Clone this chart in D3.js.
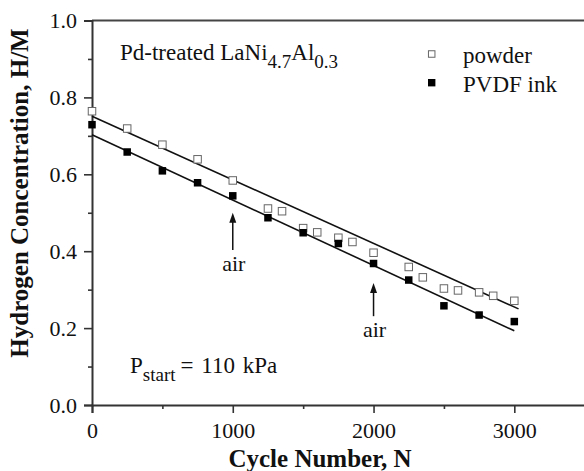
<!DOCTYPE html>
<html><head><meta charset="utf-8">
<script src="https://cdn.jsdelivr.net/npm/d3@7"></script>
<style>
html,body{margin:0;padding:0;background:#fff;}
svg{display:block;font-family:"Liberation Serif","Times New Roman",serif;}
</style></head>
<body><svg id="c" width="584" height="471"></svg>
<script>
const cyclesPowder = [0,250,500,750,1000,1250,1350,1500,1600,1750,1850,2000,2250,2350,2500,2600,2750,2850,3000];
const powder = [0.764,0.719,0.677,0.639,0.584,0.511,0.504,0.460,0.449,0.435,0.424,0.396,0.359,0.332,0.303,0.298,0.293,0.284,0.271];
const cyclesInk = [0,250,500,750,1000,1250,1500,1750,2000,2250,2500,2750,3000];
const ink = [0.729,0.658,0.609,0.578,0.544,0.487,0.448,0.420,0.368,0.325,0.258,0.234,0.217];
const fitPowderX = [0,3030], fitPowderY = [0.751,0.250];
const fitInkX = [0,3000], fitInkY = [0.703,0.193];
const xMajor = [0,1000,2000,3000], xMinor = [500,1500,2500];
const yMajor = [0,0.2,0.4,0.6,0.8,1.0], yMinor = [0.1,0.3,0.5,0.7,0.9];
const legendLabels = ["powder","PVDF ink"];
const arrowX = [1000,2000], arrowTip = [0.50,0.317], arrowTail = [0.403,0.231], arrowText = [0.348,0.178];

const svg = d3.select("#c");
const X0=92, X1=584.7, Y0=405, Y1=20.5;
const x = d3.scaleLinear().domain([0,3500]).range([X0,X1]);
const y = d3.scaleLinear().domain([0,1]).range([Y0,Y1]);
const ink1="#111", axc="#333";

// top frame
svg.append("line").attr("x1",X0).attr("x2",584).attr("y1",y(1)).attr("y2",y(1))
  .attr("stroke","#444").attr("stroke-width",2);

// axes
const gx = svg.append("g").attr("transform",`translate(0,${Y0})`)
  .call(d3.axisBottom(x).tickValues(xMajor).tickSize(8).tickPadding(9).tickFormat(d3.format("d")));
const gxm = svg.append("g").attr("transform",`translate(0,${Y0})`)
  .call(d3.axisBottom(x).tickValues(xMinor).tickSize(4).tickFormat(""));
const gy = svg.append("g").attr("transform",`translate(${X0},0)`)
  .call(d3.axisLeft(y).tickValues(yMajor).tickSize(8).tickPadding(7).tickFormat(d3.format(".1f")));
const gym = svg.append("g").attr("transform",`translate(${X0},0)`)
  .call(d3.axisLeft(y).tickValues(yMinor).tickSize(4).tickFormat(""));
[gx,gxm,gy,gym].forEach(g=>{
  g.select(".domain").attr("stroke",axc).attr("stroke-width",2);
  g.selectAll(".tick line").attr("stroke",axc).attr("stroke-width",1.6);
  g.selectAll("text").attr("font-size",22).attr("fill",ink1)
   .attr("font-family","'Liberation Serif','Times New Roman',serif");
});
gxm.select(".domain").remove(); gym.select(".domain").remove();

// axis titles
svg.append("text").attr("x",320).attr("y",467).attr("text-anchor","middle")
  .attr("font-size",25).attr("font-weight","bold").attr("fill",ink1).text("Cycle Number, N");
svg.append("text").attr("transform","translate(28,193) rotate(-90)").attr("text-anchor","middle")
  .attr("font-size",25).attr("font-weight","bold").attr("fill",ink1).text("Hydrogen Concentration, H/M");

// fit lines
const line = d3.line().x(d=>x(d[0])).y(d=>y(d[1]));
svg.append("path").attr("d",line(d3.zip(fitPowderX,fitPowderY))).attr("fill","none").attr("stroke","#111").attr("stroke-width",1.6);
svg.append("path").attr("d",line(d3.zip(fitInkX,fitInkY))).attr("fill","none").attr("stroke","#111").attr("stroke-width",1.6);

// points
const S=7.5;
svg.append("g").selectAll("rect").data(d3.zip(cyclesPowder,powder)).join("rect")
  .attr("x",d=>x(d[0])-S/2).attr("y",d=>y(d[1])-S/2).attr("width",S).attr("height",S)
  .attr("fill","#fff").attr("stroke","#666").attr("stroke-width",1);
svg.append("g").selectAll("rect").data(d3.zip(cyclesInk,ink)).join("rect")
  .attr("x",d=>x(d[0])-S/2).attr("y",d=>y(d[1])-S/2).attr("width",S).attr("height",S)
  .attr("fill","#000");

// arrows
arrowX.forEach((ax,i)=>{
  const xp=x(ax);
  svg.append("line").attr("x1",xp).attr("x2",xp).attr("y1",y(arrowTail[i])).attr("y2",y(arrowTip[i])+4)
    .attr("stroke","#111").attr("stroke-width",1.5);
  const t=y(arrowTip[i]);
  svg.append("path").attr("d",`M${xp},${t} L${xp-3.5},${t+10} L${xp+3.5},${t+10} Z`).attr("fill","#111");
  svg.append("text").attr("x",xp+1).attr("y",y(arrowText[i])).attr("text-anchor","middle")
    .attr("font-size",22).attr("fill",ink1).text("air");
});

// title annotation
const t1 = svg.append("text").attr("x",120).attr("y",60).attr("font-size",23).attr("fill",ink1);
t1.append("tspan").text("Pd-treated LaNi");
t1.append("tspan").attr("font-size",19).attr("dy",8).text("4.7");
t1.append("tspan").attr("dy",-8).text("Al");
t1.append("tspan").attr("font-size",19).attr("dy",8).text("0.3");

const t2 = svg.append("text").attr("x",130).attr("y",373).attr("font-size",23).attr("fill",ink1);
t2.append("tspan").text("P");
t2.append("tspan").attr("font-size",19).attr("dy",7.5).text("start");
t2.append("tspan").attr("dy",-7.5).attr("dx",5).text("= 110 kPa").attr("word-spacing",2);

// legend
const LS=6.5;
svg.append("rect").attr("x",431.7-LS/2).attr("y",54-LS/2).attr("width",LS).attr("height",LS)
  .attr("fill","#fff").attr("stroke","#666").attr("stroke-width",1);
svg.append("rect").attr("x",431.7-3.7).attr("y",82.7-3.7).attr("width",7.4).attr("height",7.4).attr("fill","#000");
svg.append("text").attr("x",463).attr("y",63).attr("font-size",23).attr("fill",ink1).text(legendLabels[0]);
svg.append("text").attr("x",463).attr("y",91.5).attr("font-size",23).attr("fill",ink1).text(legendLabels[1]);
</script></body></html>
